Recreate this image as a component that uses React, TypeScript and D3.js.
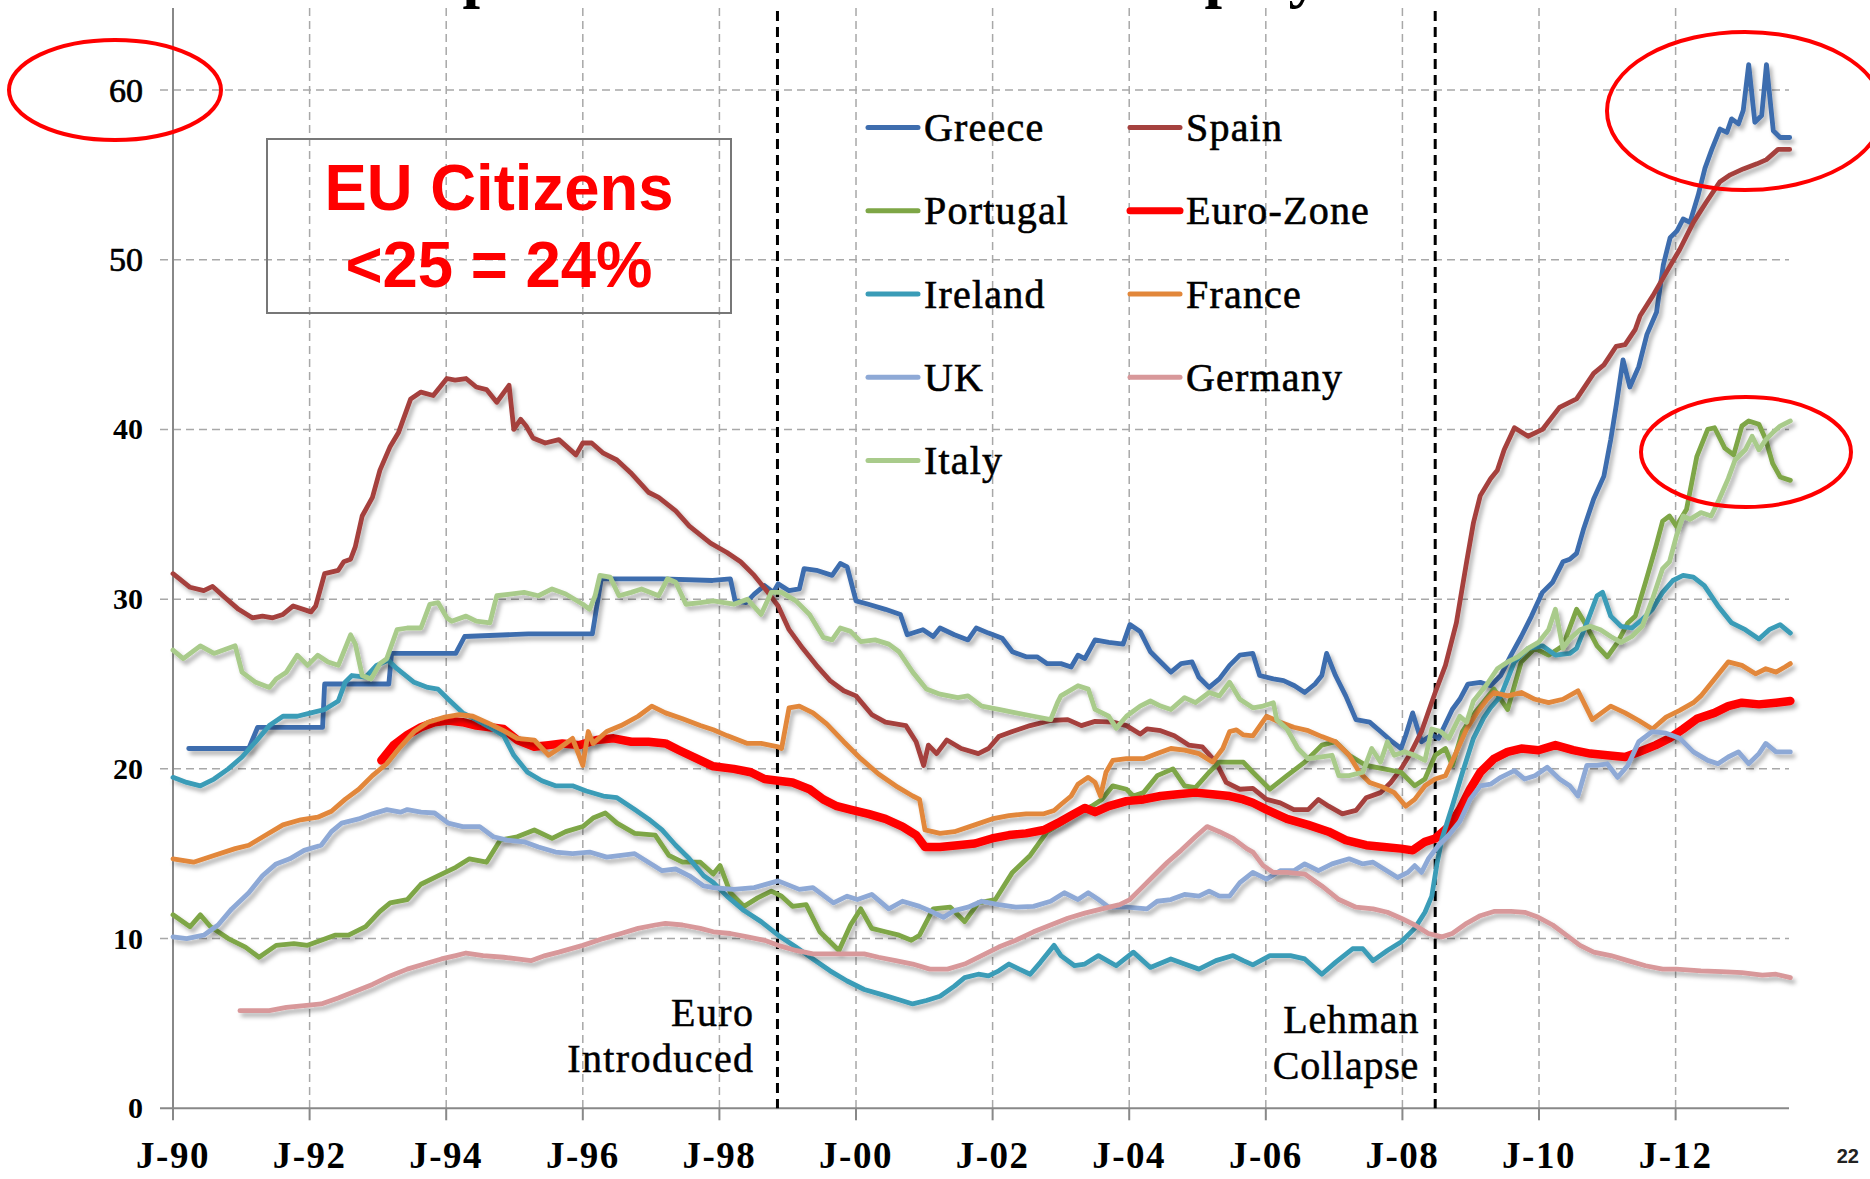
import React from 'react';
import * as d3 from 'd3';

// values: [year as decimal, youth unemployment %]
const greece: [number, number][] = [
  [1990.23, 21.2], [1991.11, 21.2], [1991.24, 22.45], [1992.19, 22.45], [1992.22, 25.0], [1993.16, 25.0], [1993.2, 26.8], [1994.14, 26.8],
  [1994.27, 27.8], [1995.2, 27.95], [1996.14, 27.95], [1996.27, 31.2], [1997.16, 31.2], [1997.9, 31.1], [1998.16, 31.2], [1998.23, 29.9],
  [1998.39, 29.8], [1998.51, 30.3], [1998.66, 30.8], [1998.79, 30.4], [1998.86, 30.9], [1999.02, 30.5], [1999.17, 30.6], [1999.24, 31.8],
  [1999.42, 31.7], [1999.65, 31.4], [1999.77, 32.1], [1999.87, 31.9], [2000.0, 29.9], [2000.18, 29.7], [2000.43, 29.4], [2000.65, 29.1],
  [2000.75, 27.9], [2000.98, 28.2], [2001.13, 27.8], [2001.23, 28.3], [2001.44, 27.9], [2001.64, 27.6], [2001.76, 28.3], [2001.94, 28.0],
  [2002.14, 27.7], [2002.29, 26.9], [2002.49, 26.6], [2002.65, 26.6], [2002.8, 26.2], [2003.0, 26.2], [2003.15, 26.0], [2003.25, 26.7],
  [2003.35, 26.5], [2003.5, 27.6], [2003.7, 27.45], [2003.91, 27.35], [2004.01, 28.5], [2004.16, 28.1], [2004.31, 26.9], [2004.46, 26.3],
  [2004.61, 25.7], [2004.76, 26.2], [2004.92, 26.3], [2005.02, 25.4], [2005.17, 24.8], [2005.32, 25.3], [2005.47, 26.1], [2005.62, 26.7],
  [2005.81, 26.8], [2005.91, 25.5], [2006.11, 25.3], [2006.26, 25.2], [2006.42, 24.9], [2006.57, 24.5], [2006.72, 25.0], [2006.82, 25.5],
  [2006.89, 26.8], [2007.02, 25.5], [2007.17, 24.3], [2007.32, 22.9], [2007.52, 22.75], [2007.68, 22.2], [2007.85, 21.6], [2007.98, 21.2],
  [2008.05, 22.0], [2008.15, 23.3], [2008.28, 21.6], [2008.43, 22.0], [2008.53, 21.8], [2008.73, 23.5], [2008.84, 24.1], [2008.96, 25.0],
  [2009.14, 25.1], [2009.29, 24.9], [2009.44, 25.5], [2009.59, 26.7], [2009.74, 27.8], [2009.89, 29.0], [2010.05, 30.4], [2010.2, 31.0],
  [2010.35, 32.2], [2010.45, 32.35], [2010.55, 32.7], [2010.65, 34.1], [2010.8, 35.9], [2010.95, 37.25], [2011.05, 39.4], [2011.13, 41.4],
  [2011.23, 44.1], [2011.33, 42.5], [2011.46, 43.7], [2011.58, 45.6], [2011.72, 46.9], [2011.82, 49.7], [2011.92, 51.3], [2012.02, 51.7],
  [2012.11, 52.4], [2012.21, 52.2], [2012.33, 53.8], [2012.43, 55.4], [2012.53, 56.5], [2012.65, 57.7], [2012.75, 57.5], [2012.82, 58.3],
  [2012.92, 58.0], [2012.99, 58.8], [2013.07, 61.5], [2013.16, 58.1], [2013.26, 58.5], [2013.33, 61.5], [2013.43, 57.6], [2013.53, 57.2],
  [2013.67, 57.2],
];

const spain: [number, number][] = [
  [1990.0, 31.5], [1990.25, 30.7], [1990.45, 30.5], [1990.58, 30.75], [1990.76, 30.1], [1990.96, 29.4], [1991.16, 28.9], [1991.31, 29.0],
  [1991.46, 28.9], [1991.61, 29.1], [1991.76, 29.6], [1992.02, 29.25], [1992.09, 29.6], [1992.22, 31.5], [1992.42, 31.7], [1992.5, 32.2],
  [1992.6, 32.35], [1992.67, 33.1], [1992.77, 34.9], [1992.92, 36.0], [1993.03, 37.6], [1993.18, 39.0], [1993.3, 39.8], [1993.48, 41.8],
  [1993.63, 42.2], [1993.81, 42.0], [1994.01, 43.0], [1994.13, 42.9], [1994.29, 43.0], [1994.44, 42.5], [1994.59, 42.35], [1994.74, 41.6],
  [1994.92, 42.6], [1994.99, 40.0], [1995.09, 40.6], [1995.17, 40.2], [1995.27, 39.5], [1995.45, 39.2], [1995.65, 39.4], [1995.9, 38.5],
  [1996.0, 39.2], [1996.13, 39.2], [1996.3, 38.6], [1996.5, 38.2], [1996.7, 37.45], [1996.96, 36.3], [1997.11, 36.0], [1997.36, 35.2],
  [1997.56, 34.3], [1997.87, 33.3], [1998.11, 32.75], [1998.31, 32.2], [1998.51, 31.4], [1998.71, 30.4], [1998.86, 29.6], [1999.02, 28.2],
  [1999.22, 27.1], [1999.42, 26.1], [1999.62, 25.2], [1999.82, 24.6], [2000.0, 24.3], [2000.23, 23.2], [2000.43, 22.75], [2000.73, 22.55],
  [2000.88, 21.6], [2000.99, 20.2], [2001.06, 21.4], [2001.18, 20.9], [2001.33, 21.7], [2001.54, 21.2], [2001.79, 20.9], [2001.94, 21.2],
  [2002.09, 21.9], [2002.29, 22.2], [2002.55, 22.55], [2002.85, 22.85], [2003.1, 22.9], [2003.3, 22.55], [2003.5, 22.8], [2003.76, 22.75],
  [2003.96, 22.55], [2004.16, 22.05], [2004.26, 22.35], [2004.46, 22.25], [2004.66, 21.95], [2004.87, 21.4], [2005.07, 21.3], [2005.27, 20.4],
  [2005.42, 19.2], [2005.62, 18.8], [2005.81, 18.85], [2006.01, 18.2], [2006.21, 18.0], [2006.41, 17.6], [2006.62, 17.6], [2006.77, 18.2],
  [2006.92, 17.8], [2007.12, 17.35], [2007.32, 17.55], [2007.47, 18.3], [2007.68, 18.6], [2007.83, 19.2], [2007.98, 20.0], [2008.13, 21.0],
  [2008.28, 22.2], [2008.41, 23.7], [2008.48, 24.5], [2008.63, 26.1], [2008.79, 28.6], [2008.94, 32.2], [2009.04, 34.5], [2009.14, 36.1],
  [2009.29, 37.1], [2009.39, 37.6], [2009.49, 38.8], [2009.64, 40.1], [2009.84, 39.6], [2010.05, 40.0], [2010.3, 41.3], [2010.55, 41.8],
  [2010.8, 43.3], [2010.95, 43.8], [2011.13, 44.9], [2011.26, 45.0], [2011.41, 45.9], [2011.48, 46.7], [2011.67, 47.9], [2011.87, 49.3],
  [2012.06, 50.6], [2012.26, 52.2], [2012.45, 53.4], [2012.65, 54.6], [2012.8, 55.0], [2012.99, 55.35], [2013.19, 55.65], [2013.33, 55.9],
  [2013.5, 56.5], [2013.67, 56.5],
];

const portugal: [number, number][] = [
  [1990.0, 11.4], [1990.25, 10.7], [1990.4, 11.4], [1990.55, 10.7], [1990.81, 10.0], [1991.06, 9.5], [1991.26, 8.9], [1991.51, 9.6],
  [1991.77, 9.7], [1991.97, 9.6], [1992.17, 9.9], [1992.37, 10.2], [1992.57, 10.2], [1992.82, 10.7], [1993.03, 11.6], [1993.18, 12.1],
  [1993.43, 12.3], [1993.63, 13.2], [1993.88, 13.7], [1994.14, 14.2], [1994.34, 14.7], [1994.59, 14.5], [1994.79, 15.8], [1995.04, 16.0],
  [1995.29, 16.4], [1995.55, 15.9], [1995.75, 16.3], [1996.0, 16.6], [1996.15, 17.1], [1996.33, 17.4], [1996.5, 16.8], [1996.76, 16.2],
  [1997.06, 16.1], [1997.26, 14.9], [1997.46, 14.5], [1997.72, 14.5], [1997.91, 13.8], [1998.01, 14.3], [1998.16, 12.7], [1998.36, 11.9],
  [1998.56, 12.4], [1998.76, 12.8], [1998.91, 12.5], [1999.07, 11.9], [1999.27, 12.0], [1999.47, 10.4], [1999.75, 9.3], [1999.92, 10.8],
  [2000.07, 11.75], [2000.23, 10.6], [2000.43, 10.4], [2000.63, 10.2], [2000.81, 9.9], [2000.93, 10.2], [2001.13, 11.75], [2001.38, 11.85],
  [2001.59, 11.0], [2001.79, 12.1], [2002.04, 12.3], [2002.29, 13.9], [2002.55, 14.9], [2002.8, 16.3], [2003.05, 16.9], [2003.25, 17.45],
  [2003.45, 17.8], [2003.6, 18.2], [2003.76, 19.0], [2003.96, 18.8], [2004.06, 18.4], [2004.21, 18.6], [2004.41, 19.6], [2004.64, 20.0],
  [2004.81, 19.0], [2004.97, 18.9], [2005.17, 19.8], [2005.32, 20.4], [2005.52, 20.4], [2005.67, 20.4], [2005.81, 19.8], [2006.06, 18.8],
  [2006.31, 19.6], [2006.57, 20.4], [2006.82, 21.4], [2007.02, 21.6], [2007.22, 20.8], [2007.47, 20.2], [2007.73, 20.0], [2007.98, 19.8],
  [2008.18, 19.0], [2008.33, 19.4], [2008.48, 20.8], [2008.63, 21.2], [2008.73, 20.2], [2008.88, 22.2], [2009.04, 23.2], [2009.34, 24.7],
  [2009.54, 23.5], [2009.74, 26.3], [2009.94, 27.1], [2010.14, 26.7], [2010.35, 27.25], [2010.55, 29.4], [2010.7, 28.4], [2010.85, 27.25],
  [2011.0, 26.6], [2011.15, 27.45], [2011.3, 28.6], [2011.41, 29.0], [2011.56, 31.0], [2011.71, 33.1], [2011.81, 34.6], [2011.91, 34.9],
  [2012.01, 34.3], [2012.16, 35.3], [2012.31, 38.4], [2012.47, 40.0], [2012.57, 40.1], [2012.72, 38.9], [2012.85, 38.5], [2012.97, 40.2],
  [2013.07, 40.5], [2013.22, 40.3], [2013.32, 39.4], [2013.42, 38.0], [2013.53, 37.2], [2013.68, 37.0],
];

const euroZone: [number, number][] = [
  [1993.05, 20.5], [1993.23, 21.4], [1993.43, 22.0], [1993.63, 22.45], [1993.83, 22.75], [1994.03, 22.85], [1994.24, 22.75], [1994.44, 22.55],
  [1994.64, 22.45], [1994.84, 22.35], [1995.04, 21.7], [1995.29, 21.3], [1995.5, 21.4], [1995.7, 21.5], [1995.95, 21.4], [1996.2, 21.7],
  [1996.45, 21.8], [1996.71, 21.6], [1996.96, 21.6], [1997.21, 21.5], [1997.41, 21.1], [1997.67, 20.6], [1997.91, 20.15], [1998.21, 20.0],
  [1998.46, 19.8], [1998.66, 19.4], [1998.86, 19.3], [1999.07, 19.2], [1999.32, 18.8], [1999.52, 18.2], [1999.72, 17.8], [1999.92, 17.6],
  [2000.18, 17.35], [2000.43, 17.05], [2000.68, 16.6], [2000.88, 16.1], [2001.01, 15.4], [2001.23, 15.4], [2001.49, 15.5], [2001.74, 15.6],
  [2001.99, 15.9], [2002.24, 16.1], [2002.49, 16.2], [2002.75, 16.4], [2002.95, 16.8], [2003.15, 17.25], [2003.35, 17.7], [2003.5, 17.45],
  [2003.7, 17.8], [2003.96, 18.1], [2004.21, 18.2], [2004.46, 18.4], [2004.71, 18.5], [2004.97, 18.6], [2005.22, 18.5], [2005.47, 18.4],
  [2005.67, 18.2], [2005.81, 18.0], [2006.01, 17.6], [2006.31, 17.05], [2006.62, 16.7], [2006.92, 16.3], [2007.17, 15.8], [2007.47, 15.5],
  [2007.73, 15.4], [2007.98, 15.3], [2008.15, 15.2], [2008.33, 15.7], [2008.48, 15.9], [2008.68, 16.6], [2008.84, 17.6], [2008.99, 18.8],
  [2009.14, 19.8], [2009.34, 20.6], [2009.54, 21.0], [2009.74, 21.2], [2009.99, 21.1], [2010.24, 21.4], [2010.5, 21.1], [2010.75, 20.9],
  [2011.0, 20.8], [2011.26, 20.7], [2011.46, 21.0], [2011.71, 21.4], [2011.91, 21.8], [2012.11, 22.35], [2012.31, 22.95], [2012.57, 23.3],
  [2012.77, 23.7], [2012.97, 23.9], [2013.22, 23.8], [2013.47, 23.9], [2013.68, 24.0],
];

const ireland: [number, number][] = [
  [1990.0, 19.5], [1990.2, 19.2], [1990.4, 19.0], [1990.6, 19.4], [1990.81, 20.0], [1991.01, 20.7], [1991.21, 21.6], [1991.41, 22.55],
  [1991.61, 23.1], [1991.82, 23.1], [1992.02, 23.3], [1992.22, 23.5], [1992.42, 24.0], [1992.52, 25.1], [1992.62, 25.5], [1992.82, 25.4],
  [1992.98, 26.1], [1993.15, 26.4], [1993.28, 25.9], [1993.53, 25.1], [1993.73, 24.8], [1993.88, 24.7], [1994.03, 24.1], [1994.24, 23.3],
  [1994.39, 23.0], [1994.64, 22.45], [1994.84, 21.96], [1994.99, 20.8], [1995.19, 19.8], [1995.4, 19.3], [1995.6, 19.0], [1995.85, 19.0],
  [1996.05, 18.7], [1996.3, 18.4], [1996.5, 18.3], [1996.76, 17.6], [1996.96, 17.05], [1997.16, 16.4], [1997.36, 15.5], [1997.56, 14.7],
  [1997.77, 13.7], [1997.91, 13.3], [1998.11, 12.5], [1998.36, 11.65], [1998.61, 11.0], [1998.86, 10.2], [1999.12, 9.5], [1999.37, 8.8],
  [1999.62, 8.1], [1999.87, 7.5], [2000.12, 7.0], [2000.38, 6.7], [2000.63, 6.4], [2000.83, 6.15], [2001.03, 6.35], [2001.23, 6.6],
  [2001.44, 7.2], [2001.59, 7.7], [2001.79, 7.9], [2001.94, 7.8], [2002.09, 8.1], [2002.24, 8.5], [2002.39, 8.2], [2002.55, 7.9],
  [2002.7, 8.6], [2002.9, 9.6], [2003.0, 9.0], [2003.2, 8.4], [2003.35, 8.5], [2003.55, 9.0], [2003.81, 8.4], [2004.06, 9.2],
  [2004.31, 8.3], [2004.61, 8.8], [2004.81, 8.5], [2005.02, 8.2], [2005.27, 8.7], [2005.52, 9.0], [2005.67, 8.7], [2005.81, 8.45],
  [2006.06, 9.0], [2006.36, 9.0], [2006.57, 8.8], [2006.82, 7.9], [2007.02, 8.6], [2007.27, 9.4], [2007.42, 9.4], [2007.57, 8.7],
  [2007.78, 9.3], [2007.98, 9.8], [2008.18, 10.6], [2008.33, 11.55], [2008.43, 12.5], [2008.51, 14.5], [2008.58, 15.9], [2008.73, 17.8],
  [2008.88, 19.8], [2009.04, 21.8], [2009.19, 23.0], [2009.29, 23.6], [2009.44, 24.3], [2009.64, 26.3], [2009.84, 27.1], [2010.05, 27.25],
  [2010.24, 26.7], [2010.45, 26.8], [2010.55, 27.1], [2010.7, 28.6], [2010.85, 30.2], [2010.93, 30.4], [2011.05, 29.0], [2011.2, 28.4],
  [2011.36, 28.3], [2011.51, 28.8], [2011.66, 29.4], [2011.81, 30.4], [2011.96, 31.1], [2012.11, 31.4], [2012.26, 31.3], [2012.42, 30.8],
  [2012.62, 29.6], [2012.82, 28.6], [2013.02, 28.2], [2013.22, 27.65], [2013.37, 28.2], [2013.53, 28.5], [2013.68, 28.0],
];

const france: [number, number][] = [
  [1990.0, 14.7], [1990.3, 14.5], [1990.6, 14.9], [1990.91, 15.3], [1991.11, 15.5], [1991.36, 16.1], [1991.61, 16.7], [1991.87, 17.0],
  [1992.12, 17.15], [1992.32, 17.5], [1992.52, 18.2], [1992.72, 18.8], [1992.92, 19.6], [1993.13, 20.3], [1993.33, 21.3], [1993.53, 22.2],
  [1993.73, 22.75], [1993.98, 23.05], [1994.19, 23.2], [1994.39, 23.1], [1994.64, 22.65], [1994.84, 22.25], [1995.04, 21.8], [1995.29, 21.7],
  [1995.5, 20.8], [1995.65, 21.2], [1995.85, 21.8], [1996.0, 20.2], [1996.08, 22.2], [1996.15, 21.5], [1996.35, 22.2], [1996.56, 22.55],
  [1996.81, 23.1], [1997.01, 23.7], [1997.21, 23.3], [1997.46, 22.95], [1997.72, 22.55], [1997.91, 22.3], [1998.11, 21.96], [1998.41, 21.5],
  [1998.61, 21.5], [1998.86, 21.3], [1998.91, 21.2], [1999.02, 23.6], [1999.17, 23.7], [1999.37, 23.3], [1999.57, 22.65], [1999.82, 21.6],
  [2000.07, 20.6], [2000.33, 19.7], [2000.58, 19.0], [2000.83, 18.4], [2000.93, 18.2], [2001.01, 16.4], [2001.23, 16.2], [2001.44, 16.3],
  [2001.74, 16.7], [2001.99, 17.05], [2002.24, 17.25], [2002.49, 17.35], [2002.75, 17.35], [2002.9, 17.55], [2003.0, 17.9], [2003.15, 18.4],
  [2003.25, 19.1], [2003.4, 19.5], [2003.5, 19.2], [2003.58, 18.4], [2003.66, 19.8], [2003.76, 20.5], [2003.96, 20.6], [2004.21, 20.6],
  [2004.41, 20.9], [2004.61, 21.2], [2004.81, 21.1], [2005.02, 20.9], [2005.22, 20.4], [2005.37, 21.2], [2005.47, 22.2], [2005.57, 22.3],
  [2005.67, 22.0], [2005.81, 21.95], [2006.01, 23.1], [2006.21, 22.75], [2006.41, 22.45], [2006.62, 22.25], [2006.82, 21.9], [2007.02, 21.6],
  [2007.22, 20.8], [2007.37, 19.8], [2007.52, 19.2], [2007.73, 18.9], [2007.88, 18.6], [2008.05, 17.8], [2008.18, 18.2], [2008.33, 19.0],
  [2008.48, 19.4], [2008.63, 19.6], [2008.79, 21.0], [2008.94, 22.35], [2009.09, 23.3], [2009.24, 24.1], [2009.34, 24.5], [2009.54, 24.3],
  [2009.74, 24.5], [2009.94, 24.1], [2010.14, 23.9], [2010.35, 24.1], [2010.57, 24.6], [2010.78, 22.9], [2011.05, 23.7], [2011.26, 23.3],
  [2011.46, 22.85], [2011.66, 22.35], [2011.86, 23.05], [2012.06, 23.45], [2012.26, 23.9], [2012.37, 24.3], [2012.57, 25.3], [2012.77, 26.3],
  [2012.97, 26.1], [2013.17, 25.6], [2013.32, 25.9], [2013.47, 25.7], [2013.6, 26.0], [2013.68, 26.2],
];

const uk: [number, number][] = [
  [1990.0, 10.1], [1990.2, 10.0], [1990.45, 10.2], [1990.66, 10.8], [1990.86, 11.75], [1991.11, 12.7], [1991.31, 13.7], [1991.51, 14.4],
  [1991.71, 14.7], [1991.92, 15.2], [1992.17, 15.5], [1992.32, 16.3], [1992.47, 16.8], [1992.72, 17.05], [1992.92, 17.35], [1993.13, 17.6],
  [1993.33, 17.45], [1993.43, 17.6], [1993.63, 17.45], [1993.83, 17.4], [1994.03, 16.8], [1994.24, 16.6], [1994.49, 16.6], [1994.69, 16.0],
  [1994.89, 15.8], [1995.14, 15.7], [1995.35, 15.4], [1995.6, 15.1], [1995.85, 15.0], [1996.1, 15.1], [1996.35, 14.8], [1996.56, 14.9],
  [1996.76, 15.0], [1996.96, 14.5], [1997.16, 14.0], [1997.36, 14.1], [1997.56, 13.7], [1997.77, 13.1], [1997.91, 13.0], [1998.21, 12.9],
  [1998.51, 13.0], [1998.86, 13.4], [1999.17, 12.9], [1999.37, 13.0], [1999.67, 12.1], [1999.87, 12.5], [2000.02, 12.3], [2000.23, 12.6],
  [2000.48, 11.75], [2000.68, 12.2], [2000.93, 11.9], [2001.13, 11.55], [2001.28, 11.25], [2001.44, 11.65], [2001.64, 11.85], [2001.84, 12.2],
  [2002.09, 12.0], [2002.34, 11.85], [2002.6, 11.9], [2002.85, 12.2], [2003.05, 12.7], [2003.25, 12.3], [2003.4, 12.7], [2003.55, 12.3],
  [2003.7, 11.85], [2003.96, 11.85], [2004.26, 11.75], [2004.41, 12.2], [2004.61, 12.3], [2004.81, 12.6], [2005.02, 12.5], [2005.17, 12.8],
  [2005.32, 12.5], [2005.47, 12.5], [2005.62, 13.3], [2005.81, 13.9], [2006.01, 13.5], [2006.21, 14.0], [2006.41, 14.0], [2006.57, 14.4],
  [2006.77, 14.0], [2006.97, 14.4], [2007.22, 14.7], [2007.42, 14.4], [2007.57, 14.5], [2007.73, 14.1], [2007.93, 13.6], [2008.08, 13.9],
  [2008.18, 14.3], [2008.28, 13.9], [2008.38, 14.7], [2008.53, 15.5], [2008.68, 16.1], [2008.84, 16.9], [2008.99, 18.2], [2009.14, 19.0],
  [2009.29, 19.1], [2009.44, 19.5], [2009.64, 19.9], [2009.79, 19.4], [2009.94, 19.6], [2010.12, 20.1], [2010.3, 19.4], [2010.45, 19.0],
  [2010.57, 18.4], [2010.7, 20.2], [2010.85, 20.2], [2011.0, 20.3], [2011.15, 19.5], [2011.3, 20.2], [2011.46, 21.6], [2011.66, 22.2],
  [2011.86, 22.1], [2012.06, 21.8], [2012.26, 21.0], [2012.47, 20.5], [2012.62, 20.3], [2012.77, 20.7], [2012.92, 21.0], [2013.07, 20.3],
  [2013.22, 20.9], [2013.32, 21.5], [2013.47, 21.0], [2013.68, 21.0],
];

const germany: [number, number][] = [
  [1990.98, 5.75], [1991.41, 5.75], [1991.66, 5.95], [1991.92, 6.05], [1992.17, 6.15], [1992.42, 6.5], [1992.67, 6.9], [1992.92, 7.3],
  [1993.18, 7.8], [1993.43, 8.2], [1993.68, 8.5], [1993.93, 8.8], [1994.14, 9.0], [1994.29, 9.15], [1994.54, 9.0], [1994.84, 8.9],
  [1995.04, 8.8], [1995.24, 8.7], [1995.45, 9.0], [1995.65, 9.2], [1996.0, 9.6], [1996.3, 10.0], [1996.56, 10.3], [1996.81, 10.6],
  [1997.06, 10.8], [1997.21, 10.9], [1997.46, 10.8], [1997.72, 10.6], [1997.91, 10.4], [1998.16, 10.3], [1998.41, 10.1], [1998.66, 9.9],
  [1998.86, 9.6], [1999.12, 9.3], [1999.37, 9.1], [1999.62, 9.1], [1999.92, 9.1], [2000.12, 9.1], [2000.33, 8.9], [2000.58, 8.7],
  [2000.83, 8.5], [2001.08, 8.2], [2001.34, 8.2], [2001.59, 8.5], [2001.84, 9.0], [2002.09, 9.5], [2002.34, 9.9], [2002.6, 10.4],
  [2002.85, 10.8], [2003.1, 11.2], [2003.35, 11.5], [2003.6, 11.75], [2003.86, 12.0], [2004.01, 12.3], [2004.16, 12.9], [2004.36, 13.7],
  [2004.56, 14.5], [2004.76, 15.2], [2004.97, 16.0], [2005.14, 16.6], [2005.32, 16.3], [2005.52, 15.9], [2005.72, 15.3], [2005.81, 15.1],
  [2005.96, 14.3], [2006.11, 13.9], [2006.31, 13.9], [2006.57, 13.8], [2006.82, 13.1], [2007.07, 12.3], [2007.32, 11.85], [2007.57, 11.75],
  [2007.78, 11.55], [2007.98, 11.2], [2008.18, 10.8], [2008.38, 10.3], [2008.58, 10.1], [2008.73, 10.3], [2008.94, 10.9], [2009.14, 11.35],
  [2009.34, 11.6], [2009.59, 11.6], [2009.79, 11.55], [2009.99, 11.25], [2010.2, 10.8], [2010.4, 10.2], [2010.6, 9.6], [2010.8, 9.2],
  [2011.05, 9.0], [2011.3, 8.7], [2011.56, 8.4], [2011.81, 8.2], [2012.01, 8.2], [2012.37, 8.1], [2012.67, 8.05], [2012.97, 8.0],
  [2013.27, 7.85], [2013.47, 7.9], [2013.68, 7.7],
];

const italy: [number, number][] = [
  [1990.0, 27.0], [1990.15, 26.5], [1990.4, 27.25], [1990.6, 26.8], [1990.91, 27.25], [1991.01, 25.7], [1991.21, 25.1], [1991.41, 24.8],
  [1991.51, 25.3], [1991.66, 25.7], [1991.82, 26.7], [1991.97, 26.1], [1992.12, 26.7], [1992.27, 26.3], [1992.42, 26.1], [1992.6, 27.9],
  [1992.67, 27.35], [1992.77, 25.5], [1992.9, 25.3], [1993.03, 26.2], [1993.13, 26.5], [1993.28, 28.2], [1993.43, 28.3], [1993.63, 28.3],
  [1993.76, 29.7], [1993.88, 29.8], [1994.01, 28.9], [1994.08, 28.7], [1994.29, 29.0], [1994.44, 28.7], [1994.64, 28.6], [1994.74, 30.2],
  [1994.94, 30.3], [1995.14, 30.4], [1995.35, 30.2], [1995.55, 30.6], [1995.75, 30.3], [1996.0, 29.7], [1996.1, 29.4], [1996.18, 30.2],
  [1996.25, 31.4], [1996.4, 31.3], [1996.53, 30.2], [1996.71, 30.4], [1996.86, 30.6], [1997.11, 30.2], [1997.24, 31.2], [1997.36, 31.0],
  [1997.51, 29.7], [1997.72, 29.8], [1997.91, 29.9], [1998.21, 29.7], [1998.41, 30.0], [1998.61, 29.1], [1998.76, 30.4], [1998.91, 30.4],
  [1999.12, 29.9], [1999.32, 29.1], [1999.52, 27.75], [1999.65, 27.6], [1999.77, 28.3], [1999.92, 28.1], [2000.07, 27.5], [2000.28, 27.6],
  [2000.48, 27.35], [2000.63, 26.9], [2000.83, 25.7], [2001.03, 24.7], [2001.23, 24.4], [2001.49, 24.2], [2001.64, 24.3], [2001.84, 23.7],
  [2002.09, 23.5], [2002.34, 23.3], [2002.6, 23.1], [2002.85, 22.9], [2002.95, 23.9], [2003.0, 24.3], [2003.25, 24.9], [2003.4, 24.7],
  [2003.5, 23.5], [2003.7, 23.1], [2003.81, 22.4], [2003.96, 23.1], [2004.16, 23.7], [2004.31, 24.0], [2004.46, 23.7], [2004.61, 23.5],
  [2004.81, 24.2], [2004.97, 23.9], [2005.17, 24.5], [2005.32, 24.3], [2005.47, 25.1], [2005.62, 24.1], [2005.81, 23.6], [2005.96, 23.7],
  [2006.11, 23.9], [2006.16, 22.9], [2006.31, 22.35], [2006.47, 21.2], [2006.62, 20.6], [2006.82, 20.7], [2006.97, 20.8], [2007.07, 19.6],
  [2007.22, 19.6], [2007.42, 19.8], [2007.55, 21.2], [2007.68, 20.4], [2007.78, 21.6], [2007.88, 20.8], [2008.03, 21.0], [2008.18, 20.8],
  [2008.33, 20.5], [2008.43, 22.35], [2008.56, 22.2], [2008.68, 21.8], [2008.84, 23.1], [2008.94, 22.75], [2009.04, 24.0], [2009.24, 25.0],
  [2009.39, 25.9], [2009.54, 26.3], [2009.69, 26.6], [2009.84, 27.1], [2009.99, 27.45], [2010.14, 28.2], [2010.24, 29.4], [2010.35, 27.1],
  [2010.45, 27.65], [2010.6, 28.2], [2010.75, 28.4], [2010.9, 28.2], [2011.05, 27.8], [2011.2, 27.45], [2011.36, 27.8], [2011.51, 28.4],
  [2011.66, 30.0], [2011.81, 31.8], [2011.91, 32.2], [2012.01, 33.7], [2012.11, 34.9], [2012.21, 34.7], [2012.37, 35.1], [2012.52, 34.9],
  [2012.64, 35.9], [2012.77, 37.1], [2012.87, 38.2], [2013.02, 38.8], [2013.12, 39.6], [2013.22, 38.8], [2013.32, 39.4], [2013.42, 39.8],
  [2013.53, 40.2], [2013.68, 40.5],
];

const countries = ['Greece', 'Spain', 'Portugal', 'Euro-Zone', 'Ireland', 'France', 'UK', 'Germany', 'Italy'];
const seriesData = [greece, spain, portugal, euroZone, ireland, france, uk, germany, italy];
const colors = ['#3E6DAE', '#A5413E', '#7EA646', '#FF0000', '#3A9CB7', '#E2873A', '#8EA9D6', '#D8989A', '#A9CB8B'];

const yearTicks = d3.range(1990, 2013, 2);
const valueTicks = [0, 10, 20, 30, 40, 50, 60];
const eventYears = [1998.85, 2008.48];
const eventLabels = [['Euro', 'Introduced'], ['Lehman', 'Collapse']];

const W = 1870;
const H = 1179;
const serif = '"Liberation Serif", "Times New Roman", serif';
const sans = '"Liberation Sans", Arial, sans-serif';

export default function App() {
  const x = d3.scaleLinear().domain([1990, 2013.66]).range([173, 1789]);
  const y = d3.scaleLinear().domain([0, 60]).range([1108.3, 90]);
  const line = d3
    .line<[number, number]>()
    .x(d => x(d[0]))
    .y(d => y(d[1]));
  const top = 8;
  const bottom = y(0);
  const right = x.range()[1];

  return (
    <svg width={W} height={H} style={{ position: 'absolute', left: 0, top: 0, background: '#fff', display: 'block' }}>
      <defs>
        <filter id="shadow" filterUnits="userSpaceOnUse" x={0} y={0} width={W} height={H}>
          <feDropShadow dx={3} dy={4} stdDeviation={2} floodColor="#000" floodOpacity={0.3} />
        </filter>
      </defs>
      <rect width={W} height={H} fill="#fff" />

      {/* title, only its descenders show at the top edge, as in the source image */}
      <text x={942} y={-5} textAnchor="middle" fontFamily={serif} fontWeight="bold" fontSize={63}>
        Spain &amp; Greece Youth Unemployment
      </text>

      {/* grid */}
      {valueTicks.filter(v => v > 0).map(v => (
        <line key={'h' + v} x1={160} x2={right} y1={y(v)} y2={y(v)} stroke="#a8a8a8" strokeWidth={1.5} strokeDasharray="8,5" />
      ))}
      {yearTicks.filter(t => t > 1990).map(t => (
        <line key={'v' + t} x1={x(t)} x2={x(t)} y1={top} y2={bottom} stroke="#a8a8a8" strokeWidth={1.5} strokeDasharray="8,5" />
      ))}

      {/* axes */}
      <line x1={x(1990)} x2={x(1990)} y1={top} y2={bottom} stroke="#888" strokeWidth={2} />
      <line x1={160} x2={right} y1={bottom} y2={bottom} stroke="#888" strokeWidth={2} />
      {yearTicks.map(t => (
        <line key={'t' + t} x1={x(t)} x2={x(t)} y1={bottom} y2={bottom + 12} stroke="#888" strokeWidth={2} />
      ))}
      {valueTicks.map(v =>
        v >= 50 ? (
          <text key={'yl' + v} x={143} y={y(v) + 11.5} textAnchor="end" fontFamily={serif} fontSize={34} stroke="#000" strokeWidth={0.7}>
            {v}
          </text>
        ) : (
          <text key={'yl' + v} x={143} y={y(v) + 10} textAnchor="end" fontFamily={serif} fontWeight="bold" fontSize={30}>
            {v}
          </text>
        )
      )}
      {yearTicks.map(t => (
        <text key={'xl' + t} x={x(t)} y={1168} textAnchor="middle" fontFamily={serif} fontWeight="bold" fontSize={37} letterSpacing={1.5}>
          {'J-' + String(t % 100).padStart(2, '0')}
        </text>
      ))}

      {/* event markers */}
      {eventYears.map((ev, i) => (
        <g key={'ev' + i}>
          <line x1={x(ev)} x2={x(ev)} y1={top + 3} y2={bottom} stroke="#000" strokeWidth={3} strokeDasharray="10,6" />
          {eventLabels[i].map((s, j) => (
            <text
              key={s}
              x={x(ev) + (i === 0 ? -23 : -16)}
              y={(i === 0 ? 1026 : 1033) + j * 46}
              textAnchor="end"
              fontFamily={serif}
              fontSize={40}
              letterSpacing={i === 0 ? 1.4 : 0.8}
              stroke="#000"
              strokeWidth={0.5}
            >
              {s}
            </text>
          ))}
        </g>
      ))}

      {/* series */}
      {seriesData.map((d, i) => (
        <path
          key={countries[i]}
          d={line(d) || ''}
          fill="none"
          stroke={colors[i]}
          strokeWidth={countries[i] === 'Euro-Zone' ? 8.5 : 4.8}
          strokeLinejoin="round"
          strokeLinecap="round"
          filter="url(#shadow)"
        />
      ))}

      {/* legend */}
      {countries.map((c, i) => {
        const lx = 868 + (i % 2) * 262;
        const ly = 127.6 + Math.floor(i / 2) * 83.2;
        return (
          <g key={'lg' + c}>
            <line x1={lx} x2={lx + 50} y1={ly} y2={ly} stroke={colors[i]} strokeWidth={c === 'Euro-Zone' ? 7 : 5} strokeLinecap="round" />
            <text x={lx + 56} y={ly + 13.5} fontFamily={serif} fontSize={40} letterSpacing={1.2} stroke="#000" strokeWidth={0.6}>
              {c}
            </text>
          </g>
        );
      })}

      {/* callout box */}
      <rect x={267} y={139} width={464} height={174} fill="none" stroke="#777" strokeWidth={2} />
      <text x={499} y={210} textAnchor="middle" fontFamily={sans} fontWeight="bold" fontSize={64} fill="#FF0000" textLength={349} lengthAdjust="spacingAndGlyphs">
        EU Citizens
      </text>
      <text x={499} y={287} textAnchor="middle" fontFamily={sans} fontWeight="bold" fontSize={64} fill="#FF0000" textLength={307} lengthAdjust="spacingAndGlyphs">
        {'<25 = 24%'}
      </text>

      {/* red highlight ellipses */}
      <ellipse cx={115} cy={90} rx={106} ry={50} fill="none" stroke="#FF0000" strokeWidth={4} />
      <ellipse cx={1745} cy={111} rx={138} ry={79} fill="none" stroke="#FF0000" strokeWidth={4} />
      <ellipse cx={1746} cy={452} rx={105} ry={55} fill="none" stroke="#FF0000" strokeWidth={4} />

      <text x={1859} y={1163} textAnchor="end" fontFamily={sans} fontWeight="bold" fontSize={20} fill="#222">
        22
      </text>
    </svg>
  );
}
